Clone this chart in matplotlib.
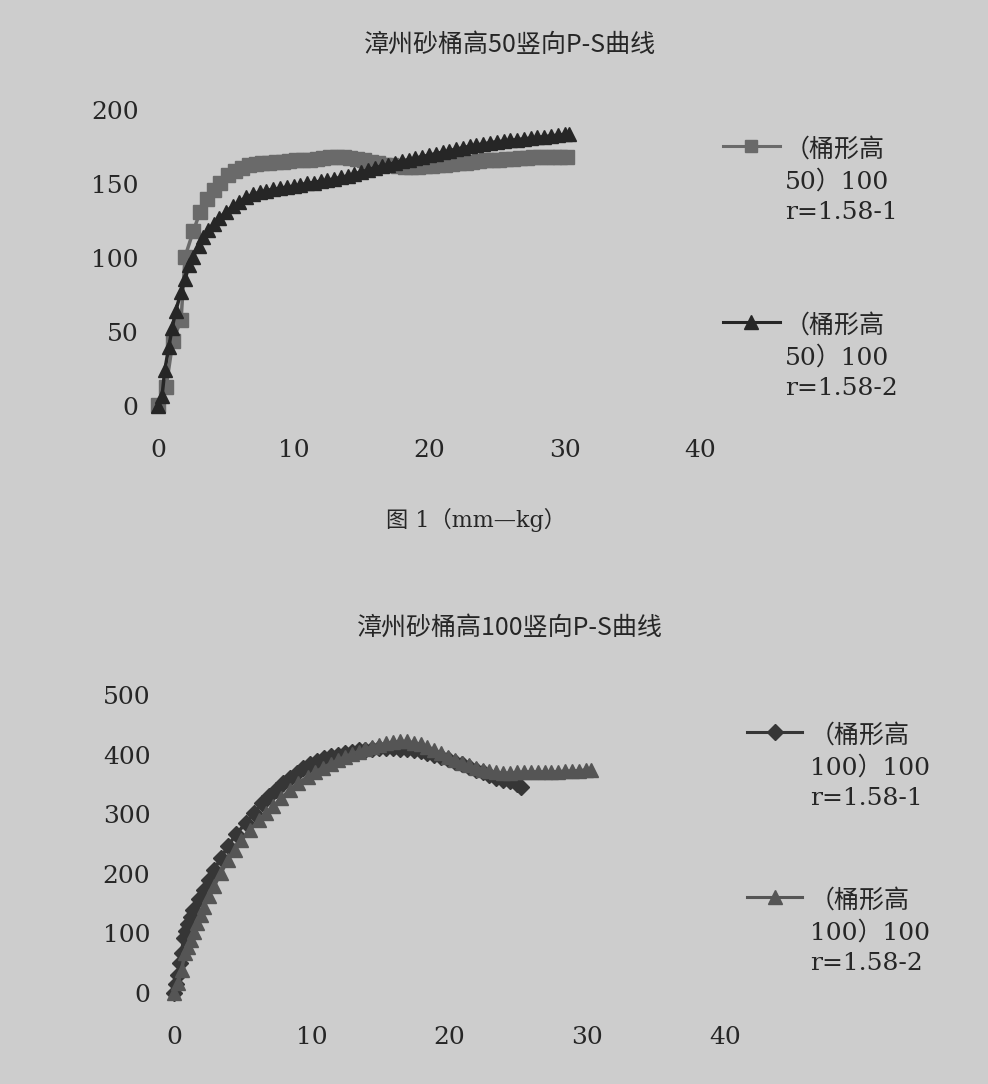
import matplotlib.pyplot as plt

# ---- data ----
# top chart: 桶高50
top_x1 = [0, 0.6, 1.1, 1.7, 2.0, 2.6, 3.1, 3.6, 4.1, 4.6, 5.2, 5.7, 6.2, 6.7, 7.2, 7.7,
          8.2, 8.7, 9.2, 9.7, 10.2, 10.7, 11.2, 11.7, 12.2, 12.7, 13.2, 13.7, 14.2, 14.7,
          15.2, 15.7, 16.2, 16.7, 17.2, 17.7, 18.2, 18.7, 19.2, 19.7, 20.2, 20.7, 21.2,
          21.7, 22.2, 22.7, 23.2, 23.7, 24.2, 24.7, 25.2, 25.7, 26.2, 26.7, 27.2, 27.7,
          28.2, 28.7, 29.2, 29.7, 30.2]
top_y1 = [1, 13, 44, 58, 101, 118, 131, 140, 146, 151, 156, 159, 161, 162.5, 163.5, 164,
          164.5, 165, 165, 165.5, 166, 166, 166.5, 167, 167.5, 168, 168, 168, 167.5, 167,
          166, 165, 164, 163, 162.5, 162, 161.5, 161.5, 161.5, 162, 162, 162.5, 163,
          163.5, 164, 164.5, 165, 165.5, 166, 166.5, 166.5, 167, 167, 167.5, 167.5, 168,
          168, 168, 168.5, 168.5, 168.5]
top_x2 = [0, 0.3, 0.5, 0.8, 1.05, 1.3, 1.7, 2.0, 2.3, 2.6, 3.0, 3.3, 3.7, 4.1, 4.5, 5.0,
          5.5, 6.0, 6.5, 7.0, 7.5, 8.0, 8.5, 9.0, 9.5, 10.0, 10.5, 11.0, 11.5, 12.0, 12.5,
          13.0, 13.5, 14.0, 14.5, 15.0, 15.5, 16.0, 16.5, 17.0, 17.5, 18.0, 18.5, 19.0,
          19.5, 20.0, 20.5, 21.0, 21.5, 22.0, 22.5, 23.0, 23.5, 24.0, 24.5, 25.0, 25.5,
          26.0, 26.5, 27.0, 27.5, 28.0, 28.5, 29.0, 29.5, 30.0, 30.3]
top_y2 = [0, 7, 24, 40, 53, 64, 77, 86, 95, 101, 108, 114, 119, 123, 127, 131, 135, 138,
          141, 143, 144.5, 145.5, 146.5, 147, 148, 148.5, 149.5, 150.5, 151, 152, 152.5,
          153.5, 154.5, 155.5, 157, 158, 159.5, 161, 162, 163, 164.5, 165.5, 166.5, 167.5,
          168.5, 169.5, 170.5, 171.5, 172.5, 173.5, 174.5, 175.5, 176.5, 177, 178, 178.5,
          179, 179.5, 180, 180.5, 181, 181.5, 182, 182.5, 183, 183.5, 184]

# bottom chart: 桶高100
bot_x1 = [0, 0.15, 0.3, 0.45, 0.55, 0.7, 0.9, 1.05, 1.25, 1.4, 1.8, 2.2, 2.55, 2.9, 3.4,
          3.9, 4.5, 5.2, 5.8, 6.4, 6.9, 7.4, 7.9, 8.4, 8.9, 9.4, 9.9, 10.4, 10.9, 11.4,
          11.9, 12.4, 12.9, 13.4, 13.9, 14.4, 14.9, 15.4, 15.9, 16.4, 16.9, 17.4, 17.9,
          18.4, 18.9, 19.4, 19.9, 20.4, 20.9, 21.4, 21.9, 22.4, 22.9, 23.4, 23.9, 24.4,
          24.9, 25.2]
bot_y1 = [0, 15, 31, 50, 67, 92, 104, 115, 128, 140, 157, 173, 190, 207, 226, 246, 266,
          285, 302, 318, 330, 341, 352, 361, 369, 377, 384, 390, 394, 397, 400, 403, 405,
          407, 408, 409.5, 410.5, 411, 411, 410, 409, 408, 406, 402, 399, 396, 392, 388,
          384, 380, 375, 370, 366, 361, 358, 355, 350, 346]
bot_x2 = [0, 0.3, 0.55, 0.8, 1.0, 1.2, 1.45, 1.7, 1.95, 2.2, 2.55, 2.9, 3.4, 3.9, 4.4,
          4.9, 5.5, 6.2, 6.7, 7.2, 7.8, 8.4, 9.0, 9.7, 10.2, 10.8, 11.4, 11.9, 12.4, 12.9,
          13.4, 13.9, 14.4, 14.9, 15.4, 15.9, 16.4, 16.9, 17.4, 17.9, 18.4, 18.9, 19.4,
          19.9, 20.4, 20.9, 21.4, 21.9, 22.4, 22.9, 23.4, 23.9, 24.4, 24.9, 25.4, 25.9,
          26.4, 26.9, 27.4, 27.9, 28.4, 28.9, 29.4, 29.9, 30.3]
bot_y2 = [0, 17, 39, 67, 78, 89, 103, 117, 131, 145, 162, 179, 201, 223, 240, 257, 274,
          290, 302, 313, 327, 341, 352, 363, 370, 378, 385, 391, 396, 401, 405, 409, 413,
          416, 419, 421, 422, 422, 420, 417, 413, 408, 402, 396, 391, 386, 382, 378, 375,
          372, 370, 369, 369, 370, 371, 371, 371, 371, 371, 371.5, 372, 372.5, 373, 374,
          374]

x_ticks = [0, 10, 20, 30, 40]
top_y_ticks = [0, 50, 100, 150, 200]
bot_y_ticks = [0, 100, 200, 300, 400, 500]

label_top1 = "（桶形高\n50）100\nr=1.58-1"
label_top2 = "（桶形高\n50）100\nr=1.58-2"
label_bot1 = "（桶形高\n100）100\nr=1.58-1"
label_bot2 = "（桶形高\n100）100\nr=1.58-2"

BG = '#cdcdcd'
TXT = '#262626'
W, H = 988, 1084
num_font = ['DejaVu Serif', 'Noto Sans CJK SC']
cjk_font = ['Noto Sans CJK SC', 'DejaVu Sans']

C_SQ = '#6a6a6a'
C_TRI1 = '#262626'
C_DIA = '#363636'
C_TRI2 = '#555555'


def fx(px):
    return px / W


def fy(py):
    return 1 - py / H


fig = plt.figure(figsize=(W / 100, H / 100), dpi=100, facecolor=BG)


def setup_axes(ax, yticks, ylim, ypad):
    ax.set_facecolor('none')
    ax.set_xlim(0, 40)
    ax.set_ylim(*ylim)
    ax.set_xticks(x_ticks)
    ax.set_yticks(yticks)
    for s in ax.spines.values():
        s.set_visible(False)
    ax.tick_params(axis='x', length=0, pad=24, labelsize=18, labelcolor=TXT)
    ax.tick_params(axis='y', length=0, pad=ypad, labelsize=18, labelcolor=TXT)
    for lab in ax.get_xticklabels() + ax.get_yticklabels():
        lab.set_family(num_font)


def legend_entry(ax, y_px, x0, x1, xm, xt, color, marker, ms, label):
    # short line with marker in the middle, text to the right (first line aligned)
    ax.plot([fx(x0), fx(x1)], [fy(y_px), fy(y_px)], color=color, lw=2.2,
            transform=fig.transFigure, clip_on=False)
    ax.plot([fx(xm)], [fy(y_px)], color=color, marker=marker, ms=ms,
            transform=fig.transFigure, clip_on=False)
    fig.text(fx(xt), fy(y_px - 8), label, family=num_font, fontsize=18, color=TXT,
             ha='left', va='top', linespacing=1.42)


# Plot 1: 桶高50
ax1 = fig.add_axes([fx(158), fy(406), fx(700) - fx(158), fy(110) - fy(406)])
setup_axes(ax1, top_y_ticks, (0, 200), 14)
ax1.plot(top_x1, top_y1, color=C_SQ, marker='s', ms=10, lw=2.5, clip_on=False)
ax1.plot(top_x2, top_y2, color=C_TRI1, marker='^', ms=10.5, lw=2.5, clip_on=False)
legend_entry(ax1, 146, 723, 780, 751, 785, C_SQ, 's', 9, label_top1)
legend_entry(ax1, 322, 723, 780, 751, 785, C_TRI1, '^', 9.5, label_top2)

fig.text(fx(510), fy(45), "漳州砂桶高50竖向P-S曲线", family=cjk_font, fontsize=18,
         color=TXT, ha='center', va='center')
fig.text(fx(476), fy(520), "图 1（mm—kg）", family=num_font, fontsize=16,
         color=TXT, ha='center', va='center')

# Plot 2: 桶高100
ax2 = fig.add_axes([fx(174), fy(993), fx(725) - fx(174), fy(695) - fy(993)])
setup_axes(ax2, bot_y_ticks, (0, 500), 17)
ax2.plot(bot_x1, bot_y1, color=C_DIA, marker='D', ms=8.5, lw=2.5, clip_on=False)
ax2.plot(bot_x2, bot_y2, color=C_TRI2, marker='^', ms=10.5, lw=2.5, clip_on=False)
legend_entry(ax2, 732, 747, 802, 775, 810, C_DIA, 'D', 8, label_bot1)
legend_entry(ax2, 897, 747, 802, 775, 810, C_TRI2, '^', 9.5, label_bot2)

fig.text(fx(510), fy(628), "漳州砂桶高100竖向P-S曲线", family=cjk_font, fontsize=18,
         color=TXT, ha='center', va='center')

fig.savefig("out.png", dpi=100, facecolor=BG)
